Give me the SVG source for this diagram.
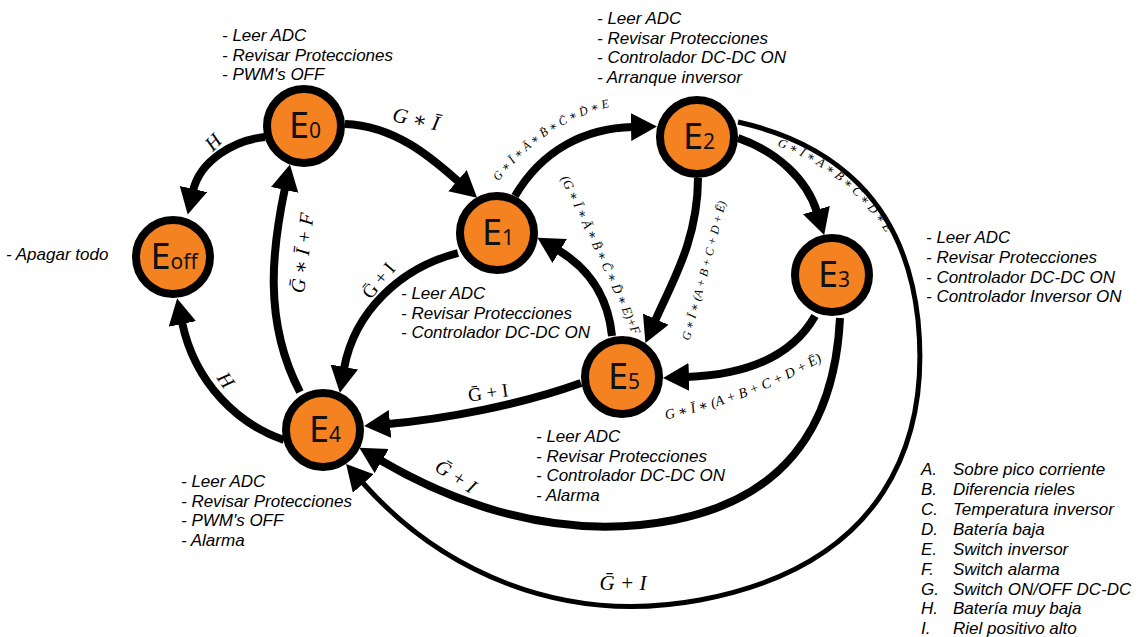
<svg xmlns="http://www.w3.org/2000/svg" width="1138" height="637" viewBox="0 0 1138 637">
  <style>
    .e { fill: none; stroke: #000; stroke-width: 8; marker-end: url(#ah); }
    .thin { stroke-width: 5; }
    .node circle { fill: #F58220; stroke: #000; stroke-width: 8; }
    .nl { font-family: "Noto Sans", "DejaVu Sans", sans-serif; font-size: 36px; text-anchor: middle; fill: #111; }
    .sub { font-size: 21px; }
    .ann { font-family: "Liberation Sans", Arial, sans-serif; font-style: italic; font-size: 17px; fill: #000; }
    .m { font-family: "Liberation Serif", "DejaVu Serif", serif; font-style: italic; fill: #000; }
    .up { font-style: normal; }
  </style>
  <defs>
    <marker id="ah" markerUnits="userSpaceOnUse" markerWidth="30" markerHeight="30" refX="2" refY="14" orient="auto">
      <path d="M0,0 L26,14 L0,28 Z" fill="#000"/>
    </marker>
    <!-- baselines for the long transition conditions -->
    <path id="t12" d="M485,200 C525,140 575,110 632,103"/>
    <path id="t23" d="M777,146 C820,161 860,191 890,239"/>
    <path id="t25" d="M685,358 C700,300 715,250 730,185"/>
    <path id="t51" d="M553,162 C585,230 612,285 640,352"/>
    <path id="t35" d="M655,422 C720,408 775,390 832,355"/>
  </defs>
  <rect width="1138" height="637" fill="#fff"/>

  <!-- transitions -->
  <g id="connectors">
    <path class="e" d="M265,137 C235,140 200,160 193,191"/>
    <path class="e" d="M345,124 C398,126 436,162 459,182"/>
    <path class="e" d="M515,196 C542,150 585,128 633,127"/>
    <path class="e" d="M738,138 C778,152 807,180 817,212"/>
    <path class="e" d="M698,178 C698,240 672,282 655,321"/>
    <path class="e" d="M612,336 C608,295 588,268 558,250"/>
    <path class="e" d="M815,316 C790,360 740,375 687,377"/>
    <path class="e" d="M458,253 C400,268 354,312 344,369"/>
    <path class="e" d="M581,383 C520,405 445,419 388,424"/>
    <path class="e" d="M840,318 C835,420 790,510 640,525 C540,535 448,500 380,460"/>
    <path class="e thin" d="M738,122 C832,143 905,200 918,320 C930,440 886,565 700,600 C560,626 440,570 362,482"/>
    <path class="e" d="M284,440 C240,425 195,385 182,322"/>
    <path class="e" d="M300,392 C262,320 273,245 285,188"/>

    <!-- conditions -->
    <text class="m" font-size="20" transform="translate(213,142) rotate(-45)" text-anchor="middle" dy="7">H</text>
    <text class="m" font-size="21" transform="translate(416,119) rotate(12)" text-anchor="middle" dy="7">G &#x2217; &#x12A;</text>
    <text class="m" font-size="12"><textPath href="#t12" startOffset="50%" text-anchor="middle">G &#x2217; &#x12A; &#x2217; &#x100; &#x2217; B&#x304; &#x2217; C&#x304; &#x2217; D&#x304; &#x2217; E</textPath></text>
    <text class="m" font-size="12.5"><textPath href="#t23">G &#x2217; &#x12A; &#x2217; &#x100; &#x2217; B&#x304; &#x2217; C&#x304; &#x2217; D&#x304; &#x2217; E</textPath></text>
    <text class="m" font-size="12"><textPath href="#t25" startOffset="50%" text-anchor="middle">G &#x2217; &#x12A; &#x2217; (A + B + C + D + &#x112;)</textPath></text>
    <text class="m" font-size="13"><textPath href="#t51" startOffset="50%" text-anchor="middle">(G &#x2217; &#x12A; &#x2217; &#x100; &#x2217; B&#x304; &#x2217; C&#x304; &#x2217; D&#x304; &#x2217; E)+F</textPath></text>
    <text class="m" font-size="14"><textPath href="#t35" startOffset="50%" text-anchor="middle">G &#x2217; &#x12A; &#x2217; (A + B + C + D + &#x112;)</textPath></text>
    <text class="m up" font-size="19" transform="translate(378,280) rotate(-50)" text-anchor="middle" dy="7">&#x1E20; + I</text>
    <text class="m up" font-size="19" transform="translate(488,392) rotate(-8)" text-anchor="middle" dy="7">&#x1E20; + I</text>
    <text class="m" font-size="20" transform="translate(456,476) rotate(33)" text-anchor="middle" dy="7">&#x1E20; + I</text>
    <text class="m" font-size="21" x="623" y="590" text-anchor="middle">&#x1E20; + I</text>
    <text class="m" font-size="20" transform="translate(226,380) rotate(55)" text-anchor="middle" dy="7">H</text>
    <text class="m" font-size="20" transform="translate(302,253) rotate(-83)" text-anchor="middle" dy="7">&#x1E20; &#x2217; &#x12A; + F</text>
  </g>

  <!-- states -->
  <g id="E0" class="node">
    <circle cx="304" cy="126" r="37"/>
    <text class="nl" x="305" y="138">E<tspan class="sub">0</tspan></text>
    <text class="ann"><tspan x="222" y="41">- Leer ADC</tspan><tspan x="222" y="61">- Revisar Protecciones</tspan><tspan x="222" y="80">- PWM's OFF</tspan></text>
  </g>
  <g id="Eoff" class="node">
    <circle cx="173" cy="257" r="37"/>
    <text class="nl" x="174" y="269">E<tspan class="sub">off</tspan></text>
    <text class="ann" x="6" y="260">- Apagar todo</text>
  </g>
  <g id="E1" class="node">
    <circle cx="497" cy="233" r="37"/>
    <text class="nl" x="498" y="245">E<tspan class="sub">1</tspan></text>
    <text class="ann"><tspan x="401" y="299">- Leer ADC</tspan><tspan x="401" y="319">- Revisar Protecciones</tspan><tspan x="401" y="338">- Controlador DC-DC ON</tspan></text>
  </g>
  <g id="E2" class="node">
    <circle cx="697" cy="137" r="37"/>
    <text class="nl" x="699" y="149">E<tspan class="sub">2</tspan></text>
    <text class="ann"><tspan x="597" y="24">- Leer ADC</tspan><tspan x="597" y="44">- Revisar Protecciones</tspan><tspan x="597" y="63">- Controlador DC-DC ON</tspan><tspan x="597" y="83">- Arranque inversor</tspan></text>
  </g>
  <g id="E3" class="node">
    <circle cx="832" cy="275" r="37"/>
    <text class="nl" x="834" y="287">E<tspan class="sub">3</tspan></text>
    <text class="ann"><tspan x="926" y="243">- Leer ADC</tspan><tspan x="926" y="263">- Revisar Protecciones</tspan><tspan x="926" y="283">- Controlador DC-DC ON</tspan><tspan x="926" y="302">- Controlador Inversor ON</tspan></text>
  </g>
  <g id="E5" class="node">
    <circle cx="622" cy="377" r="37"/>
    <text class="nl" x="624" y="389">E<tspan class="sub">5</tspan></text>
    <text class="ann"><tspan x="536" y="442">- Leer ADC</tspan><tspan x="536" y="462">- Revisar Protecciones</tspan><tspan x="536" y="481">- Controlador DC-DC ON</tspan><tspan x="536" y="501">- Alarma</tspan></text>
  </g>
  <g id="E4" class="node">
    <circle cx="323" cy="430" r="37"/>
    <text class="nl" x="325" y="442">E<tspan class="sub">4</tspan></text>
    <text class="ann"><tspan x="181" y="487">- Leer ADC</tspan><tspan x="181" y="507">- Revisar Protecciones</tspan><tspan x="181" y="526">- PWM's OFF</tspan><tspan x="181" y="546">- Alarma</tspan></text>
  </g>

  <!-- legend -->
  <g id="legend" class="ann">
    <text x="921" y="475">A.</text><text x="953" y="475">Sobre pico corriente</text>
    <text x="921" y="495">B.</text><text x="953" y="495">Diferencia rieles</text>
    <text x="921" y="515">C.</text><text x="953" y="515">Temperatura inversor</text>
    <text x="921" y="535">D.</text><text x="953" y="535">Batería baja</text>
    <text x="921" y="555">E.</text><text x="953" y="555">Switch inversor</text>
    <text x="921" y="575">F.</text><text x="953" y="575">Switch alarma</text>
    <text x="921" y="595">G.</text><text x="953" y="595">Switch ON/OFF DC-DC</text>
    <text x="921" y="614">H.</text><text x="953" y="614">Batería muy baja</text>
    <text x="921" y="634">I.</text><text x="953" y="634">Riel positivo alto</text>
  </g>
</svg>
